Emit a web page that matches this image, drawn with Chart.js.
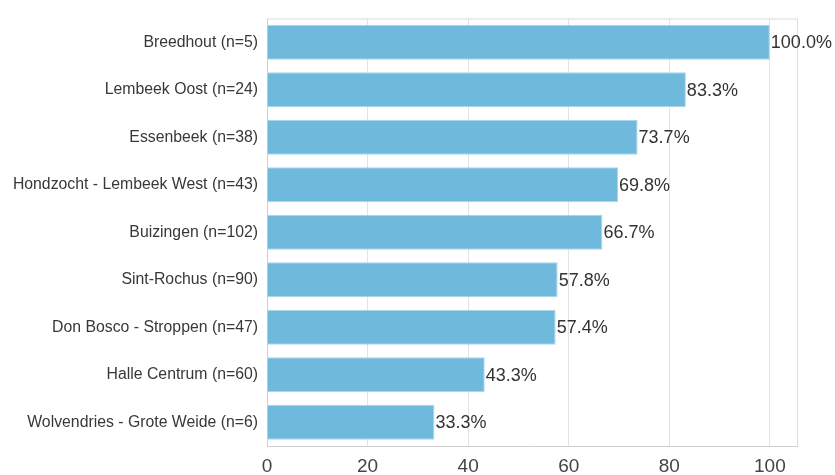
<!DOCTYPE html>
<html>
<head>
<meta charset="utf-8">
<script src="https://cdn.jsdelivr.net/npm/chart.js@4/dist/chart.umd.min.js"></script>
<style>
  html, body { margin: 0; padding: 0; background: #fff; }
  #wrap { width: 835px; height: 475px; position: relative; }
</style>
</head>
<body>
<div id="wrap"><canvas id="chart"></canvas></div>
<script>
'use strict';

const neighbourhoods = [
  'Breedhout (n=5)',
  'Lembeek Oost (n=24)',
  'Essenbeek (n=38)',
  'Hondzocht - Lembeek West (n=43)',
  'Buizingen (n=102)',
  'Sint-Rochus (n=90)',
  'Don Bosco - Stroppen (n=47)',
  'Halle Centrum (n=60)',
  'Wolvendries - Grote Weide (n=6)'
];
const percentages = [100.0, 83.3, 73.7, 69.8, 66.7, 57.8, 57.4, 43.3, 33.3];
const xTicks = [0, 20, 40, 60, 80, 100];

const FONT = "'Liberation Sans', Arial, Helvetica, sans-serif";

// value labels right of each bar + top/right frame of the plot
const barLabels = {
  id: 'barLabels',
  afterDatasetsDraw(chart) {
    const ctx = chart.ctx;
    const meta = chart.getDatasetMeta(0);
    ctx.save();
    ctx.font = '18px ' + FONT;
    ctx.fillStyle = '#333';
    ctx.textAlign = 'left';
    ctx.textBaseline = 'middle';
    meta.data.forEach((bar, i) => {
      ctx.fillText(percentages[i].toFixed(1) + '%', bar.x + 1, bar.y + 1);
    });
    ctx.restore();
  },
  beforeDatasetsDraw(chart) {
    const { ctx, chartArea: a } = chart;
    ctx.save();
    ctx.strokeStyle = '#dcdcdc';
    ctx.lineWidth = 1;
    ctx.beginPath();
    ctx.moveTo(a.left, a.top + 0.5);
    ctx.lineTo(a.right + 0.5, a.top + 0.5);
    ctx.lineTo(a.right + 0.5, a.bottom);
    ctx.stroke();
    ctx.restore();
  }
};

new Chart(document.getElementById('chart'), {
  type: 'bar',
  data: {
    labels: neighbourhoods,
    datasets: [{
      data: percentages,
      backgroundColor: '#6fb9dd',
      borderColor: '#a9d6ec',
      borderWidth: 1,
      categoryPercentage: 1,
      barPercentage: 0.74
    }]
  },
  options: {
    indexAxis: 'y',
    responsive: true,
    maintainAspectRatio: false,
    animation: false,
    layout: { padding: { top: 17, right: 38, left: 0, bottom: 0 } },
    plugins: { legend: { display: false }, tooltip: { enabled: false } },
    scales: {
      x: {
        min: 0,
        max: 105.4,
        afterBuildTicks: s => { s.ticks = xTicks.map(v => ({ value: v })); },
        afterFit: s => { s.height = 29; },
        grid: { color: '#e3e3e3', drawTicks: false },
        border: { color: '#d0d0d0' },
        ticks: { color: '#444', padding: 9, font: { size: 19, family: FONT } }
      },
      y: {
        afterFit: s => { s.width = 267; },
        grid: { display: false, drawTicks: false },
        border: { color: '#d0d0d0' },
        ticks: { color: '#383838', padding: 9, font: { size: 15.8, family: FONT } }
      }
    }
  },
  plugins: [barLabels]
});
</script>
</body>
</html>
